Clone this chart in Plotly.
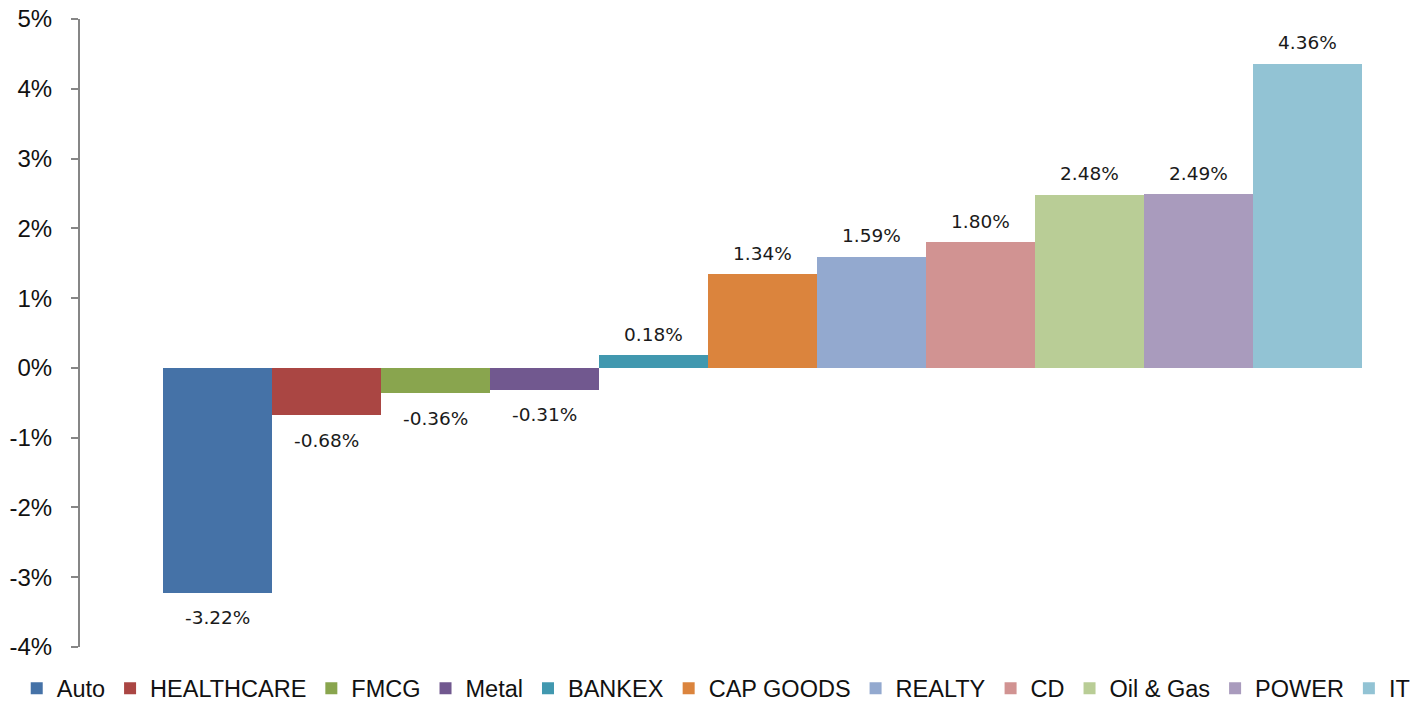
import plotly.graph_objects as go

sectors = ["Auto", "HEALTHCARE", "FMCG", "Metal", "BANKEX", "CAP GOODS",
           "REALTY", "CD", "Oil & Gas", "POWER", "IT"]
returns = [-3.22, -0.68, -0.36, -0.31, 0.18, 1.34, 1.59, 1.80, 2.48, 2.49, 4.36]
colors = ["#4572A7", "#AA4643", "#89A54E", "#71588F", "#4198AF", "#DB843D",
          "#93A9CF", "#D19392", "#B9CD96", "#A99BBD", "#92C3D4"]
y_ticks = [-4, -3, -2, -1, 0, 1, 2, 3, 4, 5]

fig = go.Figure()
for i, (name, val, col) in enumerate(zip(sectors, returns, colors)):
    fig.add_trace(go.Bar(x=[i], y=[val], name=name, width=1,
                         marker=dict(color=col, line=dict(width=0)),
                         hoverinfo="name+y"))
    fig.add_annotation(x=i, y=val, text=f"{val:.2f}%", showarrow=False,
                       yshift=21 if val >= 0 else -25,
                       font=dict(family="DejaVu Sans", size=18.5, color="#1a1a1a"))

fig.update_layout(
    width=1422, height=702,
    margin=dict(l=80, r=10, t=19, b=55, autoexpand=False),
    paper_bgcolor="white", plot_bgcolor="white",
    barmode="overlay", bargap=0,
    showlegend=True,
    legend=dict(orientation="h", x=-0.0475, xanchor="left",
                y=-0.031, yanchor="top",
                font=dict(family="Liberation Sans, Arial", size=23.5, color="#111111"),
                itemwidth=30, traceorder="normal"),
    xaxis=dict(range=[-1.2615, 10.959], showticklabels=False, showgrid=False,
               zeroline=False, showline=False, ticks="", automargin=False),
    yaxis=dict(range=[-4, 5], tickvals=y_ticks,
               ticktext=[f"{v}%" for v in y_ticks], automargin=False,
               ticklabeloverflow="allow",
               showgrid=False, zeroline=False, showline=True,
               linecolor="#868686", linewidth=2, ticks="outside", ticklen=7,
               tickcolor="#868686", tickwidth=2, ticklabelstandoff=14,
               tickfont=dict(family="Liberation Sans, Arial", size=24, color="#111111")),
)

fig.write_html("out.html", config={"displayModeBar": False},
               post_script="document.body.style.margin='0';document.body.style.overflow='hidden';")
